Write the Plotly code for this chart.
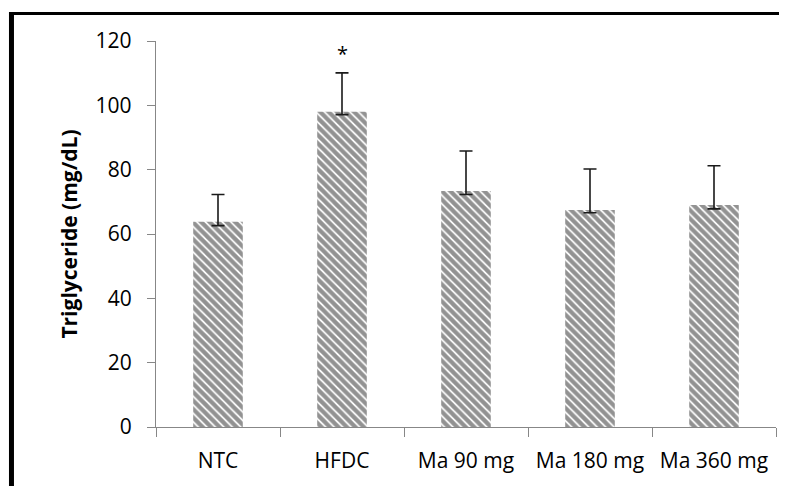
import plotly.graph_objects as go

categories = ["NTC", "HFDC", "Ma 90 mg", "Ma 180 mg", "Ma 360 mg"]
values = [63.8, 98.0, 73.4, 67.5, 69.0]
err_plus = [8.5, 12.1, 12.4, 12.7, 12.2]
err_minus = [1.2, 0.9, 1.1, 0.9, 1.2]
y_ticks = [0, 20, 40, 60, 80, 100, 120]
star_label = "*"
star_category = "HFDC"
star_y = 116.0

FONT = "Open Sans"

fig = go.Figure()
fig.add_trace(go.Bar(
    x=categories, y=values,
    marker=dict(color="white",
                line=dict(width=0),
                pattern=dict(shape="\\", fgcolor="#262626", bgcolor="white",
                             size=6, solidity=0.7, fillmode="overlay")),
    error_y=dict(type="data", symmetric=False, array=err_plus, arrayminus=err_minus,
                 color="#1a1a1a", thickness=1.6, width=6.5),
    width=0.4,
))

fig.add_annotation(x=star_category, y=star_y, text=star_label, showarrow=False,
                   font=dict(family=FONT, size=20, color="black"), yanchor="middle")

# page has an 8px body margin; figure sized to fit inside the window
fig.update_layout(
    width=779, height=478,
    margin=dict(l=148, r=11, t=33, b=59),
    plot_bgcolor="white", paper_bgcolor="white",
    showlegend=False,
    font=dict(family=FONT, color="black"),
    shapes=[
        dict(type="line", xref="paper", yref="paper", x0=-0.2331, x1=-0.2331,
             y0=1.075, y1=-0.2, line=dict(color="black", width=5)),
        dict(type="line", xref="paper", yref="paper", x0=-0.2371, x1=1.05,
             y0=1.0712, y1=1.0712, line=dict(color="black", width=3)),
    ],
)
fig.update_yaxes(range=[0, 120], tickvals=y_ticks, showgrid=False, zeroline=False,
                 showline=True, linecolor="#878787", linewidth=1.3,
                 ticks="outside", ticklen=8, tickcolor="#878787",
                 tickfont=dict(family=FONT, size=21, color="black"),
                 ticklabelstandoff=11,
                 title=dict(text="<b>Triglyceride (mg/dL)</b>",
                            font=dict(family=FONT, size=21, color="black"), standoff=12))
fig.update_xaxes(showgrid=False, showline=True, linecolor="#878787", linewidth=1.3,
                 ticks="outside", ticklen=9, tickcolor="#878787", tickson="boundaries",
                 tickfont=dict(family=FONT, size=21, color="black"),
                 ticklabelstandoff=15)

fig.write_html(
    "out.html",
    config={"displayModeBar": False},
    post_script="document.documentElement.style.overflow='hidden';"
                "document.body.style.overflow='hidden';",
)
